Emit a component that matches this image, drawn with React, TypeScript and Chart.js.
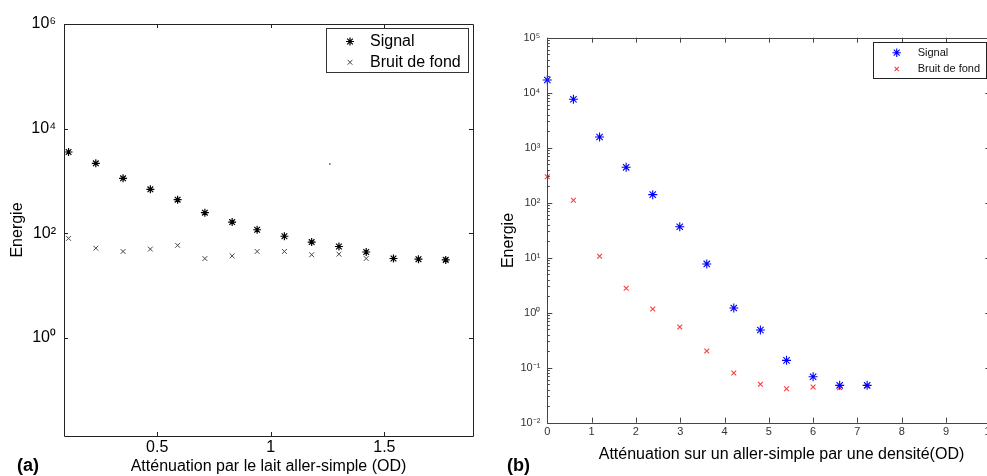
import React, { useEffect, useRef } from 'react';
import { Chart, registerables } from 'chart.js';

Chart.register(...registerables);

// ---------- Data: panel (a) ----------
const attenuationLait = [0.11, 0.23, 0.35, 0.47, 0.59, 0.71, 0.83, 0.94, 1.06, 1.18, 1.3, 1.42, 1.54, 1.65, 1.77];
const signalLait = [3580, 2180, 1125, 693, 440, 248, 164, 117, 88, 68, 56, 44, 33, 32, 31];
const bruitLait = [80, 52, 45, 50, 59, 33, 37, 45, 45, 39, 40, 33, 33, 32, 32];
const artefactX = [1.26];
const artefactY = [2110];
const ticksXLait = [0.5, 1, 1.5];
const ticksYLait = [1, 100, 1e4, 1e6];

// ---------- Data: panel (b) ----------
const densite = [0, 0.59, 1.18, 1.78, 2.38, 2.99, 3.6, 4.21, 4.81, 5.4, 6.0, 6.6, 7.22];
const signalDensite = [17000, 7600, 1565, 440, 140, 36.6, 7.7, 1.22, 0.484, 0.136, 0.0686, 0.0478, 0.0478];
const bruitDensite = [297, 111, 10.6, 2.78, 1.17, 0.55, 0.201, 0.08, 0.0499, 0.0415, 0.0446, 0.0433, 0.0465];
const ticksXDensite = [0, 1, 2, 3, 4, 5, 6, 7, 8, 9, 10];
const ticksYDensite = [1e-2, 1e-1, 1, 10, 100, 1e3, 1e4, 1e5];

const FONT = "'Liberation Sans', Arial, Helvetica, sans-serif";

const SUPS: Record<string, string> = {
  '0': '\u2070', '1': '\u00B9', '2': '\u00B2', '3': '\u00B3', '4': '\u2074',
  '5': '\u2075', '6': '\u2076', '7': '\u2077', '8': '\u2078', '9': '\u2079', '-': '\u207B',
};
const pow10Label = (v: number) =>
  '10' + String(Math.round(Math.log10(v))).split('').map((c) => SUPS[c] || c).join('');

const toPts = (xs: number[], ys: number[]) => xs.map((x, i) => ({ x, y: ys[i] }));

function drawMarker(ctx: CanvasRenderingContext2D, style: string, x: number, y: number, r: number, color: string, lw: number) {
  ctx.save();
  ctx.strokeStyle = color;
  ctx.lineWidth = lw;
  ctx.beginPath();
  const d = r * Math.SQRT1_2;
  if (style === 'star' || style === 'cross') {
    ctx.moveTo(x - r, y); ctx.lineTo(x + r, y);
    ctx.moveTo(x, y - r); ctx.lineTo(x, y + r);
  }
  if (style === 'star' || style === 'crossRot') {
    ctx.moveTo(x - d, y - d); ctx.lineTo(x + d, y + d);
    ctx.moveTo(x - d, y + d); ctx.lineTo(x + d, y - d);
  }
  ctx.stroke();
  ctx.restore();
}

const px = (v: number) => Math.round(v) + 0.5;

const decorPlugin = {
  id: 'decor',
  afterDraw(chart: any, _args: any, opts: any) {
    const { ctx, chartArea: a, scales } = chart;
    const xs = scales.x;
    const ys = scales.y;
    ctx.save();
    // frame
    ctx.strokeStyle = opts.frameColor;
    ctx.lineWidth = opts.frameWidth;
    ctx.beginPath();
    ctx.rect(px(a.left), px(a.top), Math.round(a.right) - Math.round(a.left), Math.round(a.bottom) - Math.round(a.top));
    ctx.stroke();
    // ticks
    ctx.beginPath();
    const L = opts.tickLen;
    for (const v of opts.xTicks) {
      const p = px(xs.getPixelForValue(v));
      ctx.moveTo(p, a.bottom); ctx.lineTo(p, a.bottom - L);
      ctx.moveTo(p, a.top); ctx.lineTo(p, a.top + L);
    }
    for (const v of opts.yTicks) {
      const p = px(ys.getPixelForValue(v));
      ctx.moveTo(a.left, p); ctx.lineTo(a.left + L, p);
      ctx.moveTo(a.right, p); ctx.lineTo(a.right - L, p);
    }
    if (opts.minorLen) {
      for (const v of opts.yTicks) {
        for (let m = 2; m <= 9; m++) {
          const mv = v * m;
          if (mv > ys.max) continue;
          const p = px(ys.getPixelForValue(mv));
          ctx.moveTo(a.left, p); ctx.lineTo(a.left + opts.minorLen, p);
        }
      }
    }
    ctx.stroke();
    // legend
    const lg = opts.legend;
    if (lg) {
      const [x0, y0, x1, y1] = lg.box;
      ctx.fillStyle = '#fff';
      ctx.fillRect(x0, y0, x1 - x0, y1 - y0);
      ctx.strokeStyle = lg.borderColor;
      ctx.lineWidth = 1;
      ctx.strokeRect(px(x0), px(y0), Math.round(x1 - x0), Math.round(y1 - y0));
      ctx.font = lg.font;
      ctx.fillStyle = lg.textColor;
      ctx.textBaseline = 'middle';
      ctx.textAlign = 'left';
      chart.data.datasets.forEach((ds: any, i: number) => {
        const row = lg.rows[i];
        if (!row) return;
        drawMarker(ctx, ds.pointStyle, lg.markerX, row, lg.markerR[i], ds.borderColor, ds.borderWidth);
        ctx.fillText(ds.label, lg.textX, row);
      });
    }
    // free texts
    for (const t of opts.texts || []) {
      ctx.save();
      ctx.font = t.font;
      ctx.fillStyle = t.color || '#000';
      ctx.textAlign = t.align || 'center';
      ctx.textBaseline = 'middle';
      ctx.translate(t.x, t.y);
      if (t.rotate) ctx.rotate(t.rotate);
      ctx.fillText(t.text, 0, 0);
      ctx.restore();
    }
    ctx.restore();
  },
};

function makeConfigA(): any {
  return {
    type: 'scatter',
    data: {
      datasets: [
        {
          label: 'Signal', data: toPts(attenuationLait, signalLait), pointStyle: 'star',
          pointRadius: 4, borderColor: '#000', backgroundColor: '#000', borderWidth: 1.2, clip: false,
        },
        {
          label: 'Bruit de fond', data: toPts(attenuationLait, bruitLait), pointStyle: 'crossRot',
          pointRadius: 3.4, borderColor: '#444', backgroundColor: '#444', borderWidth: 1, clip: false,
        },
        {
          label: '', data: toPts(artefactX, artefactY), pointStyle: 'circle',
          pointRadius: 0.9, borderWidth: 0, borderColor: '#666', backgroundColor: '#666', clip: false,
        },
      ],
    },
    options: {
      animation: false, responsive: false, maintainAspectRatio: false, devicePixelRatio: 1,
      events: [],
      layout: { padding: { left: 0, top: 24, right: 17, bottom: 0 } },
      plugins: {
        legend: { display: false }, tooltip: { enabled: false },
        decor: {
          frameColor: '#222', frameWidth: 1, tickLen: 4, minorLen: 0,
          xTicks: ticksXLait, yTicks: ticksYLait,
          legend: {
            box: [326, 28, 468, 72], borderColor: '#333', font: `16px ${FONT}`, textColor: '#000',
            markerX: 350, textX: 370, rows: [41.5, 62.3], markerR: [4, 3.4],
          },
          texts: [{ text: '(a)', x: 17, y: 466, font: `bold 18px ${FONT}`, align: 'left' }],
        },
      },
      scales: {
        x: {
          type: 'linear', min: 0.09, max: 1.89,
          grid: { display: false, drawTicks: false }, border: { display: false },
          afterBuildTicks: (s: any) => { s.ticks = ticksXLait.map((value) => ({ value })); },
          afterFit: (s: any) => { s.height = 40; },
          ticks: { padding: 2, autoSkip: false, maxRotation: 0, color: '#000', font: { family: FONT, size: 16 }, callback: (v: any) => String(v) },
          title: { display: true, text: 'Atténuation par le lait aller-simple (OD)', color: '#000', font: { family: FONT, size: 16 }, padding: { top: 0, bottom: 0 } },
        },
        y: {
          type: 'logarithmic', min: 0.0134, max: 1e6, bounds: 'data',
          grid: { display: false, drawTicks: false }, border: { display: false },
          afterBuildTicks: (s: any) => { s.ticks = ticksYLait.map((value) => ({ value })); },
          afterFit: (s: any) => { s.width = 64; },
          ticks: { padding: 8, autoSkip: false, color: '#000', font: { family: FONT, size: 16 }, callback: (v: any) => pow10Label(Number(v)) },
          title: { display: true, text: 'Energie', color: '#000', font: { family: FONT, size: 16 }, padding: { top: 8.4, bottom: 0 } },
        },
      },
    },
    plugins: [decorPlugin],
  };
}

function makeConfigB(): any {
  return {
    type: 'scatter',
    data: {
      datasets: [
        {
          label: 'Signal', data: toPts(densite, signalDensite), pointStyle: 'star',
          pointRadius: 4.5, borderColor: '#0000ff', backgroundColor: '#0000ff', borderWidth: 1.1, clip: false,
        },
        {
          label: 'Bruit de fond', data: toPts(densite, bruitDensite), pointStyle: 'crossRot',
          pointRadius: 3.4, borderColor: '#ff3b3b', backgroundColor: '#ff3b3b', borderWidth: 1.1, clip: false,
        },
      ],
    },
    options: {
      animation: false, responsive: false, maintainAspectRatio: false, devicePixelRatio: 1,
      events: [],
      layout: { padding: { left: 0, top: 37.7, right: 9.7, bottom: 0 } },
      plugins: {
        legend: { display: false }, tooltip: { enabled: false },
        decor: {
          frameColor: '#444', frameWidth: 1, tickLen: 5, minorLen: 2.5,
          xTicks: ticksXDensite, yTicks: ticksYDensite,
          legend: {
            box: [383.3, 42.3, 496.2, 78.7], borderColor: '#222', font: `11px ${FONT}`, textColor: '#111',
            markerX: 406.7, textX: 427.7, rows: [52.7, 69], markerR: [4.2, 3],
          },
          texts: [
            { text: '(b)', x: 17, y: 466, font: `bold 18px ${FONT}`, align: 'left' },
            { text: 'Energie', x: 18.3, y: 240.5, font: `16px ${FONT}`, rotate: -Math.PI / 2 },
            { text: 'Atténuation sur un aller-simple par une densité(OD)', x: 291.5, y: 455, font: `16px ${FONT}` },
          ],
        },
      },
      scales: {
        x: {
          type: 'linear', min: 0, max: 10,
          grid: { display: false, drawTicks: false }, border: { display: false },
          afterBuildTicks: (s: any) => { s.ticks = ticksXDensite.map((value) => ({ value })); },
          afterFit: (s: any) => { s.height = 53.3; },
          ticks: { padding: 3, autoSkip: false, maxRotation: 0, color: '#333', font: { family: FONT, size: 11 }, callback: (v: any) => String(v) },
          title: { display: false },
        },
        y: {
          type: 'logarithmic', min: 1e-2, max: 1e5, bounds: 'data',
          grid: { display: false, drawTicks: false }, border: { display: false },
          afterBuildTicks: (s: any) => { s.ticks = ticksYDensite.map((value) => ({ value })); },
          afterFit: (s: any) => { s.width = 57.3; },
          ticks: { padding: 7, autoSkip: false, color: '#333', font: { family: FONT, size: 11 }, callback: (v: any) => pow10Label(Number(v)) },
          title: { display: false },
        },
      },
    },
    plugins: [decorPlugin],
  };
}

export default function App() {
  const refA = useRef<HTMLCanvasElement | null>(null);
  const refB = useRef<HTMLCanvasElement | null>(null);

  useEffect(() => {
    if (!refA.current || !refB.current) return;
    const a = new Chart(refA.current, makeConfigA());
    const b = new Chart(refB.current, makeConfigB());
    return () => { a.destroy(); b.destroy(); };
  }, []);

  return (
    <div style={{ position: 'fixed', left: 0, top: 0, width: 987, height: 476, overflow: 'hidden', background: '#fff' }}>
      <canvas ref={refA} width={490} height={476} style={{ position: 'absolute', left: 0, top: 0, width: 490, height: 476 }} />
      <canvas ref={refB} width={510} height={476} style={{ position: 'absolute', left: 490, top: 0, width: 510, height: 476 }} />
    </div>
  );
}
